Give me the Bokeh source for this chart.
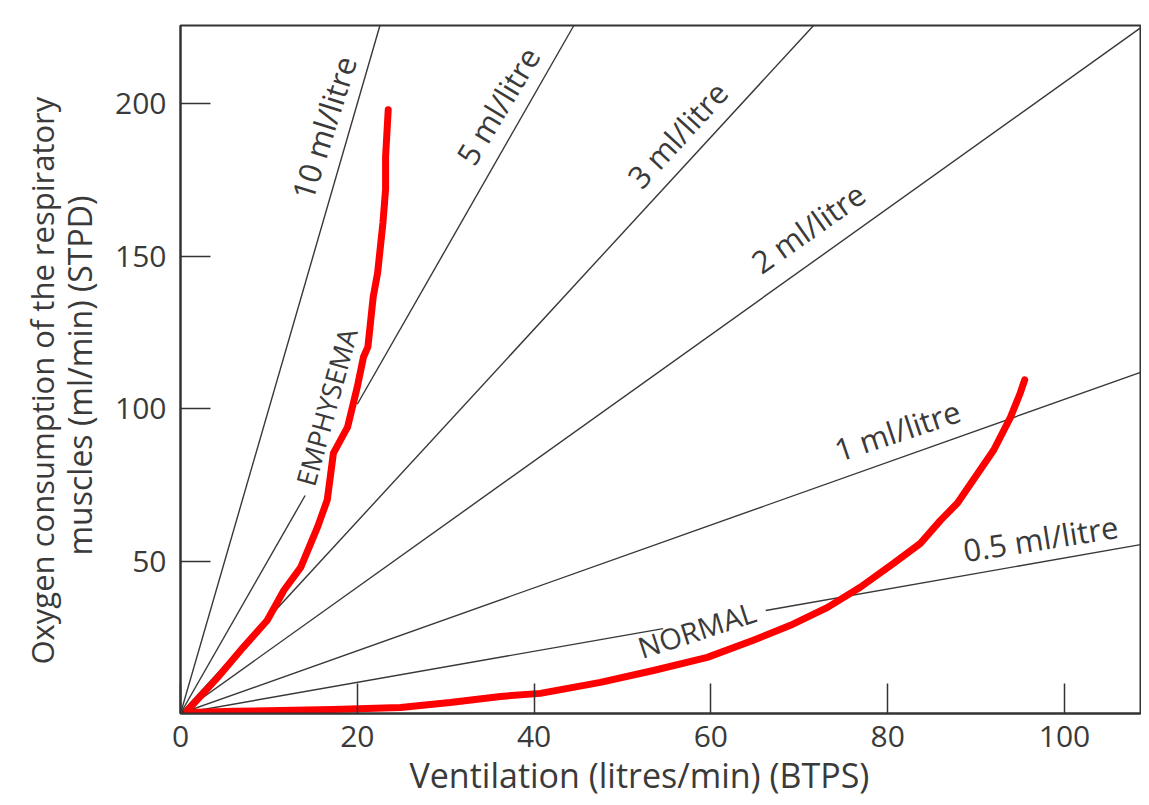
import math
from bokeh.plotting import figure
from bokeh.models import Label, FixedTicker, Title
from bokeh.embed import file_html
from bokeh.resources import INLINE

# ---------------- data ----------------
x_ticks = [0, 20, 40, 60, 80, 100]
y_ticks = [50, 100, 150, 200]

ratio_labels = ["10 ml/litre", "5 ml/litre", "3 ml/litre", "2 ml/litre", "1 ml/litre", "0.5 ml/litre"]
ratio_slopes = [10.0, 5.07, 3.15, 2.07, 1.03, 0.51]

emph_x = [0.8, 4.2, 7.1, 9.8, 11.7, 13.6, 15.5, 16.6, 17.3, 18.9, 20.0, 20.7, 21.2, 21.8, 22.3, 22.9, 23.2, 23.2, 23.5]
emph_y = [1.0, 11.8, 21.7, 30.5, 40.4, 47.9, 61.1, 70.0, 85.4, 93.9, 107.1, 116.9, 120.2, 136.6, 144.5, 160.9, 171.8, 182.6, 198.0]

norm_x = [0.8, 6.0, 17.3, 24.9, 30.5, 36.2, 40.7, 47.5, 53.5, 59.6, 64.8, 69.0, 73.2, 76.9, 80.7, 83.7, 86.0, 87.9, 90.2, 92.0, 93.9, 95.0, 95.5]
norm_y = [0.3, 0.7, 1.3, 2.0, 3.6, 5.6, 6.6, 10.2, 14.1, 18.4, 24.0, 28.9, 34.8, 41.4, 49.3, 55.8, 63.4, 69.0, 78.8, 86.4, 97.2, 105.1, 109.4]

x_title = "Ventilation (litres/min) (BTPS)"
y_title_1 = "Oxygen consumption of the respiratory"
y_title_2 = "muscles (ml/min) (STPD)"

# ---------------- layout ----------------
X_MAX, Y_MAX = 108.6, 225.6
FONT = "Open Sans"
INK = "#3a3a3a"

p = figure(width=1141, height=797, output_backend="svg", toolbar_location=None,
           x_range=(0, X_MAX), y_range=(0, Y_MAX),
           min_border_left=180, min_border_right=1, min_border_top=25, min_border_bottom=84)
p.background_fill_color = "white"
p.border_fill_color = "white"
p.grid.visible = False
p.outline_line_color = "#333333"
p.outline_line_width = 2

for ax, ticks in ((p.xaxis[0], x_ticks), (p.yaxis[0], y_ticks)):
    ax.ticker = FixedTicker(ticks=ticks)
    ax.minor_tick_line_color = None
    ax.major_tick_in = 30
    ax.major_tick_out = 0
    ax.major_tick_line_color = "#333333"
    ax.major_tick_line_width = 1.5
    ax.axis_line_color = "#333333"
    ax.axis_line_width = 2
    ax.major_label_text_font = FONT
    ax.major_label_text_font_size = "30px"
    ax.major_label_text_color = INK
p.xaxis.major_label_standoff = 12
p.yaxis.major_label_standoff = 14

# axis titles
p.add_layout(Title(text=y_title_2, align="left", offset=158, standoff=23, text_font=FONT,
                   text_font_size="32px", text_font_style="normal", text_color=INK), "left")
p.add_layout(Title(text=y_title_1, align="left", offset=49, standoff=-36, text_font=FONT,
                   text_font_size="31px", text_font_style="normal", text_color=INK), "left")
p.add_layout(Title(text=x_title, align="left", offset=229, standoff=0, text_font=FONT,
                   text_font_size="34px", text_font_style="normal", text_color=INK), "below")

# ratio lines (with gaps where labels sit on them)
gaps = {1: (14.1, 20.0), 5: (54.6, 66.2)}
xs, ys = [], []
for i, k in enumerate(ratio_slopes):
    x_end = min(X_MAX, Y_MAX / k)
    if i in gaps:
        a, b = gaps[i]
        xs += [[0, a], [b, x_end]]
        ys += [[0, a * k], [b * k, x_end * k]]
    else:
        xs.append([0, x_end])
        ys.append([0, x_end * k])
p.multi_line(xs, ys, line_color="#383838", line_width=1.4)

# ratio line labels: (x, y, angle deg)
label_pos = [(16.2, 192.1, 72.5), (35.9, 199.3, 59.0), (56.2, 189.8, 47.5),
             (71.0, 159.3, 35.3), (81.1, 92.9, 18.5), (97.3, 57.5, 9.0)]
for txt, (lx, ly, ang) in zip(ratio_labels, label_pos):
    p.add_layout(Label(x=lx, y=ly, text=txt, angle=math.radians(ang), text_align="center",
                       text_baseline="middle", text_font=FONT, text_font_size="31px", text_color=INK))

p.add_layout(Label(x=16.5, y=100.5, text="EMPHYSEMA", angle=math.radians(74.5), text_align="center",
                   text_baseline="middle", text_font=FONT, text_font_size="27px", text_color=INK))
p.add_layout(Label(x=58.4, y=27.6, text="NORMAL", angle=math.radians(18), text_align="center",
                   text_baseline="middle", text_font=FONT, text_font_size="29px", text_color=INK))

# red curves
p.line(emph_x, emph_y, line_color="#ff0000", line_width=7, line_join="round", line_cap="round")
p.line(norm_x, norm_y, line_color="#ff0000", line_width=7, line_join="round", line_cap="round")

open("out.html", "w").write(file_html(p, INLINE))
